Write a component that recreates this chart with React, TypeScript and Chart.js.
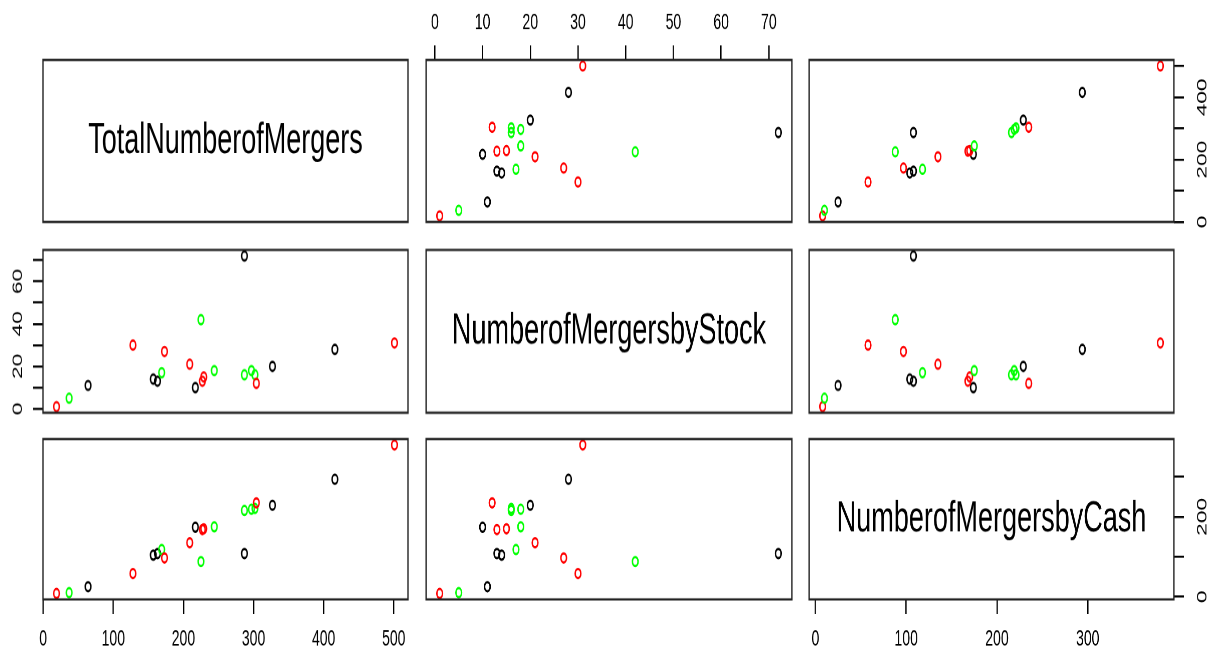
import React, { useEffect, useRef } from 'react';
import { Chart, registerables } from 'chart.js';

Chart.register(...registerables);

// ---------- data ----------
const variableNames = ['TotalNumberofMergers', 'NumberofMergersbyStock', 'NumberofMergersbyCash'];
const groupPalette = ['#000000', '#FF0000', '#00FF00'];
const groupOfObservation = [1, 2, 0, 1, 0, 0, 2, 1, 1, 0, 2, 1, 1, 2, 0, 2, 2, 2, 1, 0, 0, 1];
const totalNumberOfMergers = [19, 37, 64, 128, 157, 163, 169, 173, 209, 217, 225, 227, 229, 244, 287, 287, 297, 302, 304, 327, 416, 501];
const numberOfMergersByStock = [1, 5, 11, 30, 14, 13, 17, 27, 21, 10, 42, 13, 15, 18, 72, 16, 18, 16, 12, 20, 28, 31];
const numberOfMergersByCash = [8, 10, 25, 58, 104, 108, 118, 97, 135, 174, 88, 168, 170, 175, 108, 216, 219, 221, 235, 229, 294, 380];

const totalTicks = [0, 100, 200, 300, 400, 500];
const stockTicks = [0, 10, 20, 30, 40, 50, 60, 70];
const cashTicks = [0, 100, 200, 300];
const totalSideLabels = [0, 200, 400];
const stockSideLabels = [0, 20, 40, 60];
const cashSideLabels = [0, 200];

const series = [totalNumberOfMergers, numberOfMergersByStock, numberOfMergersByCash];
const tickValues = [totalTicks, stockTicks, cashTicks];
const sideLabels = [totalSideLabels, stockSideLabels, cashSideLabels];

// ---------- layout ----------
const SY = 1.62; // vertical stretch of the whole figure
const M = 50;
const AXIS_X = 40;
const AXIS_Y = 45;
const COLS = [[43.3, 408.3], [426, 791.7], [809.3, 1174]];
const ROWS = [[60, 222.7], [250, 412.7], [438.3, 600]].map(([a, b]) => [a / SY, b / SY]);
const FONT = '"Liberation Sans", Arial, Helvetica, sans-serif';

type Spec = { r: number; c: number; x?: 'top' | 'bottom'; y?: 'left' | 'right' };
const panels: Spec[] = [
  { r: 0, c: 0 }, { r: 0, c: 1, x: 'top' }, { r: 0, c: 2, y: 'right' },
  { r: 1, c: 0, y: 'left' }, { r: 1, c: 1 }, { r: 1, c: 2 },
  { r: 2, c: 0, x: 'bottom' }, { r: 2, c: 1 }, { r: 2, c: 2, x: 'bottom', y: 'right' },
];

function range(v: number[]) {
  const lo = Math.min(...v);
  const hi = Math.max(...v);
  const e = (hi - lo) * 0.04;
  return [lo - e, hi + e];
}

function Panel({ spec }: { spec: Spec }) {
  const ref = useRef<HTMLCanvasElement | null>(null);
  const [bx0, bx1] = COLS[spec.c];
  const [by0, by1] = ROWS[spec.r];
  const w = bx1 - bx0 + 2 * M;
  const h = by1 - by0 + 2 * M;

  useEffect(() => {
    const canvas = ref.current;
    if (!canvas) return;
    const diag = spec.r === spec.c;
    const xs = series[spec.c];
    const ys = series[spec.r];
    const [xmin, xmax] = range(xs);
    const [ymin, ymax] = range(ys);
    const data = diag ? [] : xs.map((x, k) => ({ x, y: ys[k] }));
    const colors = groupOfObservation.map((g) => groupPalette[g]);
    const label = diag ? variableNames[spec.r] : '';

    const frame = {
      id: 'frame',
      afterDraw(chart: any) {
        const { ctx, chartArea: a } = chart;
        ctx.save();
        ctx.strokeStyle = '#222';
        ctx.lineWidth = 1.4;
        ctx.strokeRect(a.left, a.top, a.right - a.left, a.bottom - a.top);
        if (label) {
          ctx.font = '27px ' + FONT;
          ctx.fillStyle = '#000';
          ctx.textAlign = 'center';
          ctx.textBaseline = 'middle';
          ctx.fillText(label, (a.left + a.right) / 2, (a.top + a.bottom) / 2);
        }
        ctx.restore();
      },
    };

    const xIdx = spec.c;
    const yIdx = spec.r;

    const chart = new Chart(canvas, {
      type: 'scatter',
      data: {
        datasets: [
          {
            data,
            showLine: false,
            pointStyle: 'circle',
            pointRadius: 2.8,
            pointHoverRadius: 2.8,
            pointBorderWidth: 1.5,
            pointBorderColor: colors,
            pointBackgroundColor: 'rgba(0,0,0,0)',
          },
        ],
      },
      options: {
        animation: false,
        responsive: false,
        devicePixelRatio: 2,
        events: [],
        layout: {
          padding: {
            left: spec.y === 'left' ? M - AXIS_Y : M,
            right: spec.y === 'right' ? M - AXIS_Y : M,
            top: spec.x === 'top' ? M - AXIS_X : M,
            bottom: spec.x === 'bottom' ? M - AXIS_X : M,
          },
        },
        plugins: { legend: { display: false }, tooltip: { enabled: false } },
        scales: {
          x: {
            type: 'linear',
            display: !!spec.x,
            position: spec.x || 'bottom',
            min: xmin,
            max: xmax,
            bounds: 'data',
            afterBuildTicks: (s: any) => {
              s.ticks = tickValues[xIdx].map((v) => ({ value: v }));
            },
            afterFit: (s: any) => {
              if (spec.x) s.height = AXIS_X;
            },
            grid: { display: true, drawOnChartArea: false, drawTicks: true, tickLength: 9, color: '#000', lineWidth: 1.3 },
            border: { display: false },
            ticks: {
              autoSkip: false,
              minRotation: 0,
              maxRotation: 0,
              padding: spec.x === 'top' ? 5.5 : 7.3,
              color: '#000',
              font: { family: FONT, size: 14 },
              callback: (v: any) => String(v),
            },
          },
          y: {
            type: 'linear',
            display: !!spec.y,
            position: spec.y || 'left',
            min: ymin,
            max: ymax,
            bounds: 'data',
            afterBuildTicks: (s: any) => {
              s.ticks = tickValues[yIdx].map((v) => ({ value: v }));
            },
            afterFit: (s: any) => {
              if (spec.y) s.width = AXIS_Y;
            },
            grid: { display: true, drawOnChartArea: false, drawTicks: true, tickLength: 10, color: '#000', lineWidth: 1.3 },
            border: { display: false },
            ticks: {
              autoSkip: false,
              minRotation: 90,
              maxRotation: 90,
              crossAlign: 'center',
              padding: spec.y === 'left' ? 7 : 7,
              color: '#000',
              font: { family: FONT, size: 14 },
              callback: (v: any) => (sideLabels[yIdx].includes(Number(v)) ? String(v) : ''),
            },
          },
        },
      } as any,
      plugins: [frame],
    });
    return () => chart.destroy();
  }, []);

  return (
    <canvas
      ref={ref}
      width={w}
      height={h}
      style={{ position: 'absolute', left: bx0 - M, top: by0 - M, width: w, height: h }}
    />
  );
}

export default function App() {
  return (
    <div
      style={{
        position: 'fixed',
        left: 0,
        top: 0,
        width: 1219,
        height: 653 / SY,
        background: '#fff',
        transform: `scaleY(${SY})`,
        transformOrigin: '0 0',
        overflow: 'visible',
      }}
    >
      {panels.map((p) => (
        <Panel key={`${p.r}-${p.c}`} spec={p} />
      ))}
    </div>
  );
}
